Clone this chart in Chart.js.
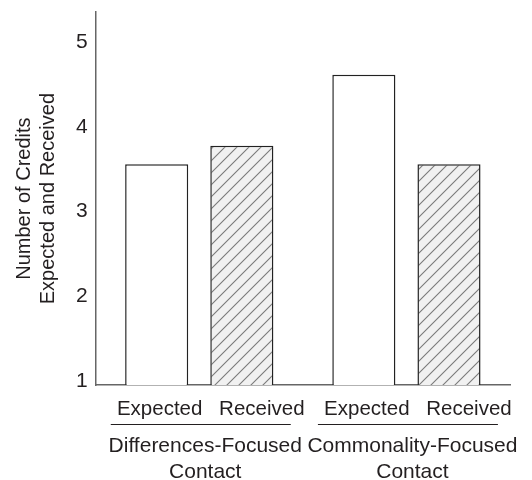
<!DOCTYPE html>
<html>
<head>
<meta charset="utf-8">
<script src="https://cdn.jsdelivr.net/npm/chart.js@4/dist/chart.umd.min.js"></script>
<style>
  html, body { margin: 0; padding: 0; background: #fff; }
  #wrap { width: 532px; height: 480px; }
</style>
</head>
<body>
<div id="wrap"><canvas id="chart"></canvas></div>
<script>
const groups = [["Differences-Focused", "Contact"], ["Commonality-Focused", "Contact"]];
const seriesNames = ["Expected", "Received"];
const expected = [3.56, 4.62];
const received = [3.78, 3.56];
const yTicks = [1, 2, 3, 4, 5];

const FONT = "'Liberation Sans', Arial, Helvetica, sans-serif";
const INK = '#231f20';

function hatchPattern() {
    const c = document.createElement('canvas');
    c.width = 12; c.height = 12;
    const g = c.getContext('2d');
    g.fillStyle = '#f1f1f1';
    g.fillRect(0, 0, 12, 12);
    g.strokeStyle = '#7a7a7a';
    g.lineWidth = 1.1;
    g.beginPath();
    g.moveTo(-1, 13); g.lineTo(13, -1);
    g.moveTo(-7, 7); g.lineTo(7, -7);
    g.moveTo(5, 19); g.lineTo(19, 5);
    g.stroke();
    return g.createPattern(c, 'repeat');
}

// x labels under bars, underline per group, group captions
const groupLabels = {
    id: 'groupLabels',
    afterDraw(chart) {
        const ctx = chart.ctx;
        const bottom = chart.chartArea.bottom;
        const x = chart.scales.x;
        ctx.save();
        ctx.fillStyle = INK;
        ctx.textAlign = 'center';
        ctx.textBaseline = 'alphabetic';
        ctx.font = '20.5px ' + FONT;
        // labels sit a bit right of the bars, received more so
        const nudge = [3, 20];
        chart.data.datasets.forEach((ds, i) => {
            chart.getDatasetMeta(i).data.forEach(bar => {
                ctx.fillText(ds.label, bar.x + nudge[i], bottom + 30);
            });
        });
        ctx.strokeStyle = INK;
        ctx.lineWidth = 1.2;
        ctx.font = '21px ' + FONT;
        groups.forEach((lines, j) => {
            const cx = x.getPixelForValue(j);
            ctx.beginPath();
            ctx.moveTo(cx + 1.5 - 90, bottom + 39.5);
            ctx.lineTo(cx + 1.5 + 90, bottom + 39.5);
            ctx.stroke();
            lines.forEach((t, k) => ctx.fillText(t, cx + 6, bottom + 67 + k * 26));
        });
        ctx.restore();
    }
};

new Chart(document.getElementById('chart'), {
    type: 'bar',
    data: {
        labels: groups.map(g => g.join(' ')),
        datasets: [
            {
                label: seriesNames[0],
                data: expected,
                backgroundColor: '#ffffff',
                borderColor: '#222',
                borderWidth: 1.5
            },
            {
                label: seriesNames[1],
                data: received,
                backgroundColor: hatchPattern(),
                borderColor: '#222',
                borderWidth: 1.5
            }
        ]
    },
    options: {
        responsive: true,
        maintainAspectRatio: false,
        animation: false,
        categoryPercentage: 0.822,
        barPercentage: 0.741,
        layout: { padding: { top: 8, right: 22, bottom: 87, left: 12 } },
        plugins: {
            legend: { display: false },
            tooltip: { enabled: false }
        },
        scales: {
            x: {
                grid: { display: false },
                border: { display: true, color: '#666', width: 1.5 },
                ticks: { display: false }
            },
            y: {
                min: 0.95,
                max: 5.36,
                afterBuildTicks: axis => { axis.ticks = yTicks.map(v => ({ value: v })); },
                grid: { display: false, drawTicks: false },
                border: { display: true, color: '#666', width: 1.5 },
                ticks: {
                    padding: 8,
                    color: INK,
                    font: { family: FONT, size: 21, lineHeight: 0.4 }
                },
                title: {
                    display: true,
                    text: ['Number of Credits', 'Expected and Received'],
                    color: INK,
                    font: { family: FONT, size: 20 },
                    padding: { top: 0, bottom: 8 }
                }
            }
        }
    },
    plugins: [groupLabels]
});
</script>
</body>
</html>
